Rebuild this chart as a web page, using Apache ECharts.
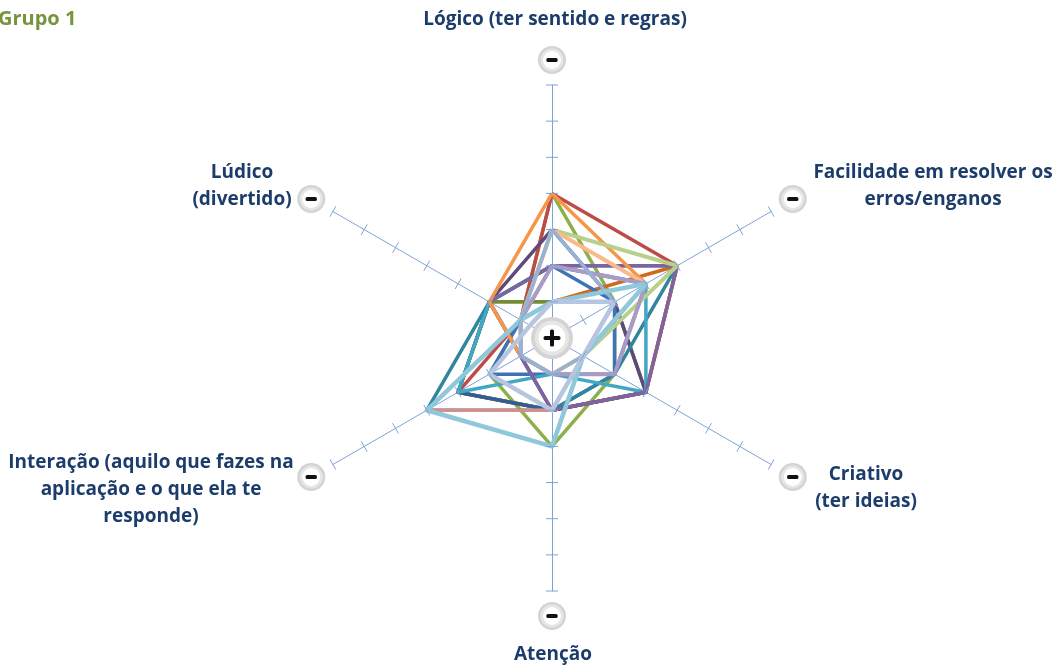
<!DOCTYPE html>
<html>
<head>
<meta charset="utf-8">
<script src="https://cdn.jsdelivr.net/npm/echarts@6/dist/echarts.min.js"></script>
<style>
  html, body { margin: 0; padding: 0; background: #fff; }
  #main { width: 1057px; height: 666px; }
</style>
</head>
<body>
<div id="main"></div>
<script>
// eixos, no sentido anti-horário a partir do topo
var eixos = ['Lógico', 'Lúdico', 'Interação', 'Atenção', 'Criativo', 'Facilidade'];

// valores: [Lógico, Lúdico, Interação, Atenção, Criativo, Facilidade]
var verde        = [4, 1, 2, 3, 2, 2];
var vermelho     = [4, 1, 3, 2, 3, 4];
var castanho     = [1, 2, 3, 2, 3, 4];
var verdeEscuro  = [1, 2, 3, 2, 3, 2];
var roxoEscuro   = [3, 2, 1, 2, 3, 2];
var azul         = [2, 1, 2, 1, 2, 2];
var azulEscuro   = [2, 2, 3, 2, 2, 3];
var azulPetroleo = [2, 2, 4, 2, 2, 4];
var aqua         = [2, 2, 3, 1, 3, 3];
var roxo         = [2, 2, 1, 2, 3, 4];
var laranja      = [4, 2, 1, 1, 1, 3];
var verdeClaro   = [3, 1, 1, 1, 1, 4];
var pessego      = [3, 1, 1, 1, 1, 3];
var lilas        = [2, 1, 1, 1, 2, 3];
var azulAco      = [3, 1, 1, 1, 1, 2];
var rosa         = [1, 1, 4, 2, 1, 2];
var aquaClaro    = [1, 1, 4, 3, 1, 3];
var cinzaAzul    = [1, 0.7, 2, 2, 1, 2];

var series = [
  ['verde', verde, '#8DB04A', 3.5],
  ['vermelho', vermelho, '#BE4B48', 3.5],
  ['castanho', castanho, '#D0691C', 3.5],
  ['verdeEscuro', verdeEscuro, '#6F8F36', 3.5],
  ['roxoEscuro', roxoEscuro, '#5F497A', 3.5],
  ['azul', azul, '#3F73B8', 3.5],
  ['azulEscuro', azulEscuro, '#2F5E9C', 3.5],
  ['azulPetroleo', azulPetroleo, '#31859C', 3.5],
  ['aqua', aqua, '#42A8C2', 3.5],
  ['roxo', roxo, '#7F63A1', 3.5],
  ['laranja', laranja, '#F79646', 3.5],
  ['verdeClaro', verdeClaro, '#B8D08C', 4],
  ['pessego', pessego, '#F9B98A', 4],
  ['lilas', lilas, '#A99BC6', 4],
  ['azulAco', azulAco, '#95B3D7', 3.5],
  ['rosa', rosa, '#D48E8C', 3.5],
  ['aquaClaro', aquaClaro, '#8EC8DA', 4.5],
  ['cinzaAzul', cinzaAzul, '#B7C6E0', 4.5]
];

var cx = 552, cy = 338, raio = 253, passos = 7;
var corEixo = '#7FA3D6';

var myChart = echarts.init(document.getElementById('main'));

// marcas de escala em cruz e ícones
var graficos = [];
var angulos = [90, 150, 210, 270, 330, 30];
angulos.forEach(function (a) {
  var t = a * Math.PI / 180, ux = Math.cos(t), uy = -Math.sin(t);
  for (var k = 1; k <= passos; k++) {
    var d = raio * k / passos, px = cx + ux * d, py = cy + uy * d;
    graficos.push({
      type: 'line', z: 50, silent: true,
      shape: { x1: px - uy * 6, y1: py + ux * 6, x2: px + uy * 6, y2: py - ux * 6 },
      style: { stroke: corEixo, lineWidth: 1 }
    });
  }
});

function icone(x, y, r, mais) {
  graficos.push({ type: 'circle', z: 100, shape: { cx: x, cy: y, r: r }, style: { fill: '#d4d4d4' } });
  graficos.push({ type: 'circle', z: 101, shape: { cx: x, cy: y, r: r * 0.82 }, style: { fill: '#e6e6e6' } });
  graficos.push({ type: 'circle', z: 102, shape: { cx: x, cy: y, r: r * 0.64 }, style: { fill: '#ffffff' } });
  graficos.push({ type: 'rect', z: 103, shape: { x: x - r * 0.4, y: y - 2, width: r * 0.8, height: 4, r: 1.5 }, style: { fill: '#111' } });
  if (mais) {
    graficos.push({ type: 'rect', z: 103, shape: { x: x - 2, y: y - r * 0.4, width: 4, height: r * 0.8, r: 1.5 }, style: { fill: '#111' } });
  }
}
angulos.forEach(function (a) {
  var t = a * Math.PI / 180;
  icone(cx + 278 * Math.cos(t), cy - 278 * Math.sin(t), 14, false);
});
icone(cx, cy, 21, true);

var corTexto = '#1C3D6C';
function rotulo(texto, x, y) {
  graficos.push({
    type: 'text', x: x, y: y, z: 100,
    style: { text: texto, fill: corTexto, font: 'bold 19px "Open Sans"', align: 'center', verticalAlign: 'middle', lineHeight: 27 }
  });
}
rotulo('Lógico (ter sentido e regras)', 555, 20);
rotulo('Facilidade em resolver os\nerros/enganos', 933, 186);
rotulo('Criativo\n(ter ideias)', 866, 488);
rotulo('Atenção', 553, 655);
rotulo('Interação (aquilo que fazes na\naplicação e o que ela te\nresponde)', 151, 490);
rotulo('Lúdico\n(divertido)', 242, 186);
graficos.push({
  type: 'text', x: -2, y: 19, z: 100,
  style: { text: 'Grupo 1', fill: '#77933C', font: 'bold 20px "Open Sans"', align: 'left', verticalAlign: 'middle' }
});

var option = {
  animation: false,
  radar: {
    center: [cx, cy],
    radius: raio,
    startAngle: 90,
    splitNumber: passos,
    shape: 'polygon',
    indicator: eixos.map(function (n) { return { name: n, min: 0, max: passos }; }),
    axisName: { show: false },
    axisLine: { lineStyle: { color: corEixo, width: 1 } },
    axisTick: { show: false },
    axisLabel: { show: false },
    splitLine: { show: false },
    splitArea: { show: false }
  },
  graphic: graficos,
  series: series.map(function (s) {
    return {
      type: 'radar',
      symbol: 'none',
      lineStyle: { color: s[2], width: s[3] },
      itemStyle: { color: s[2] },
      data: [{ name: s[0], value: s[1] }]
    };
  })
};

myChart.setOption(option);
</script>
</body>
</html>
